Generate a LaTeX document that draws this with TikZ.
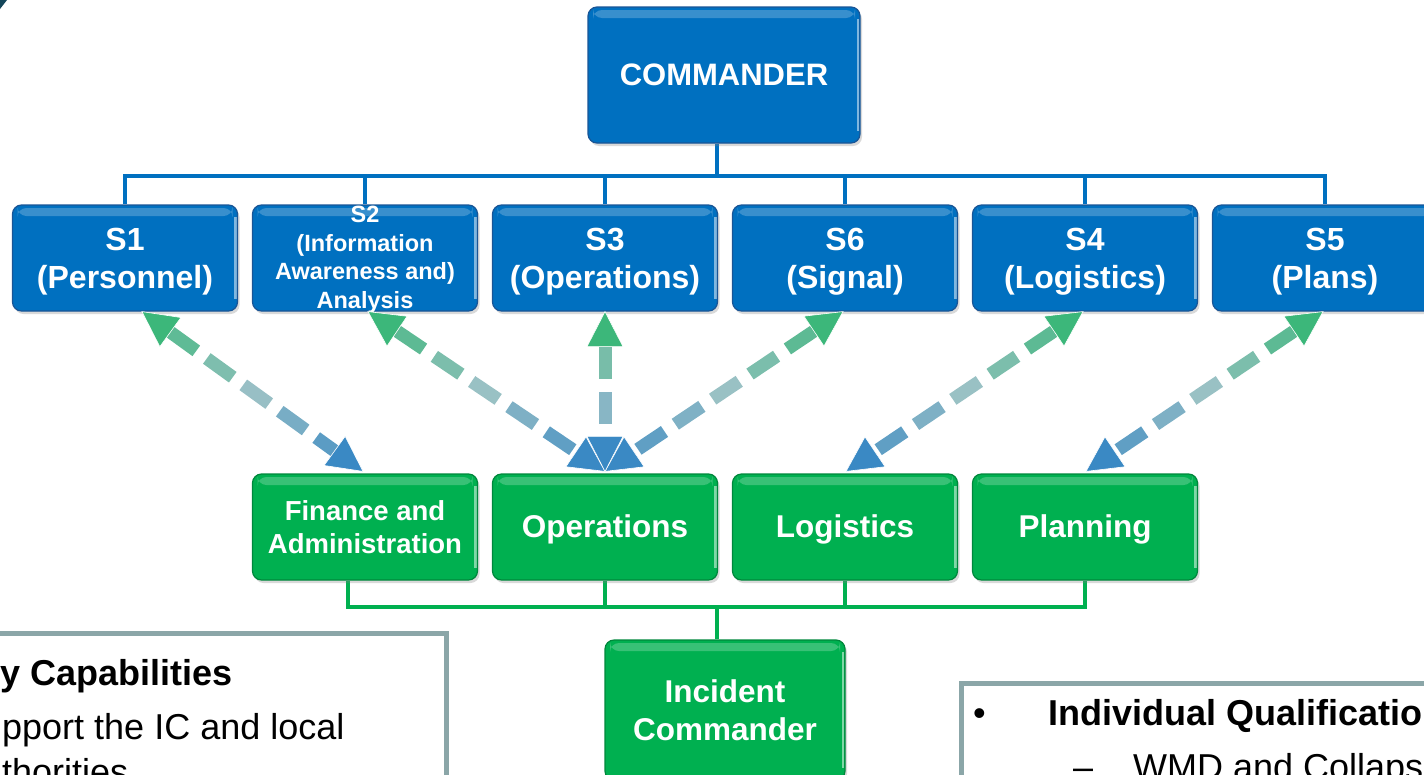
\documentclass[tikz,border=0pt]{standalone}
\usepackage{fontspec}
\setmainfont{Liberation Sans}
\usetikzlibrary{calc,shadows}
\definecolor{boxblue}{RGB}{0,112,192}
\definecolor{boxblueD}{RGB}{25,85,150}
\definecolor{boxgreen}{RGB}{0,176,80}
\definecolor{boxgreenD}{RGB}{0,135,60}
\definecolor{agreen}{RGB}{60,183,122}
\definecolor{amid}{RGB}{155,193,197}
\definecolor{ablue}{RGB}{58,137,196}
\definecolor{tborder}{RGB}{139,166,168}
\definecolor{cornerteal}{RGB}{20,70,90}
\pgfdeclarelayer{bg}
\pgfsetlayers{bg,main}

\newcommand\lbl[1]{\raisebox{-3.5pt}[\height][\depth]{\begin{tabular}{@{}c@{}}#1\end{tabular}}}
\newcommand\lblflat[1]{\raisebox{-8pt}[0pt][0pt]{\begin{tabular}{@{}c@{}}#1\end{tabular}}}

\newcommand\gradarrow[2]{%
  \path let \p1=($(#2)-(#1)$) in \pgfextra{%
    \pgfmathsetmacro\arrlen{veclen(\x1,\y1)}%
    \pgfmathsetmacro\arrang{atan2(\y1,\x1)}%
    \xdef\arrlen{\arrlen}\xdef\arrang{\arrang}};
  \begin{scope}[shift={(#1)},rotate=\arrang]
    \pgfmathsetmacro\hb{\arrlen-35}
    \foreach \k in {0,...,12}{%
      \pgfmathsetmacro\ds{35+\k*45}%
      \pgfmathsetmacro\de{min(\ds+32,\hb)}%
      \ifdim\ds pt<\de pt
        \pgfmathsetmacro\arrt{(\ds+\de)/2/\arrlen}%
        \ifdim\arrt pt<0.5pt
          \pgfmathtruncatemacro\pc{\arrt*200}%
          \colorlet{dc}{amid!\pc!agreen}%
        \else
          \pgfmathtruncatemacro\pc{(\arrt-0.5)*200}%
          \colorlet{dc}{ablue!\pc!amid}%
        \fi
        \fill[dc] (\ds pt,-6.5pt) rectangle (\de pt,6.5pt);
      \fi}
    \filldraw[fill=agreen, draw=white, line width=0.6pt] (0pt,0pt) -- (35pt,18pt) -- (35pt,-18pt) -- cycle;
    \filldraw[fill=ablue, draw=white, line width=0.6pt] (\arrlen pt,0pt) -- (\hb pt,18pt) -- (\hb pt,-18pt) -- cycle;
  \end{scope}}

\tikzset{
  bx/.style={rounded corners=9pt, inner sep=0pt, align=center, text=white,
    line width=1.2pt,
    drop shadow={opacity=0.3,shadow xshift=2pt,shadow yshift=-3pt},
    path picture={
      \fill[white,opacity=0.22] ([xshift=5pt,yshift=-3pt]path picture bounding box.north west) rectangle ([xshift=-5pt,yshift=-11pt]path picture bounding box.north east);
      \draw[white,opacity=0.5,line width=2.5pt] ([xshift=-2pt,yshift=-12pt]path picture bounding box.north east) -- ([xshift=-2pt,yshift=12pt]path picture bounding box.south east);
    }},
  bluebox/.style={bx, fill=boxblue, draw=boxblueD, minimum width=225pt, minimum height=106pt,
    font=\bfseries\fontsize{32}{38}\selectfont},
  greenbox/.style={bx, fill=boxgreen, draw=boxgreenD, minimum width=225pt, minimum height=106pt,
    font=\bfseries\fontsize{31.5}{37}\selectfont},
  bline/.style={draw=boxblue, line width=4pt},
  gline/.style={draw=boxgreen, line width=4pt},
  tbox/.style={draw=tborder, line width=5pt, fill=white, inner sep=0pt, anchor=north west},
  btext/.style={anchor=base west, inner sep=0pt, font=\bfseries\fontsize{36}{42}\selectfont},
  ntext/.style={anchor=base west, inner sep=0pt, font=\fontsize{36}{42}\selectfont},
}

\begin{document}
\begin{tikzpicture}[x=1pt,y=-1pt]
\useasboundingbox (0,0) rectangle (1424,774);
\clip (0,0) rectangle (1424,774);
\fill[cornerteal] (0,0) -- (7,0) -- (0,9) -- cycle;

% top
\node[bluebox, minimum width=272pt, minimum height=136pt, font=\bfseries\fontsize{31}{37}\selectfont] (cmd) at (724,75) {\lbl{COMMANDER}};
\node[bluebox] (s1) at (125,258) {\lbl{S1\\(Personnel)}};
\node[bluebox, font=\bfseries\fontsize{23.5}{28.5}\selectfont] (s2) at (365,258) {\lblflat{S2\\(Information\\Awareness and)\\Analysis}};
\node[bluebox] (s3) at (605,258) {\lbl{S3\\(Operations)}};
\node[bluebox] (s6) at (845,258) {\lbl{S6\\(Signal)}};
\node[bluebox] (s4) at (1085,258) {\lbl{S4\\(Logistics)}};
\node[bluebox] (s5) at (1325,258) {\lbl{S5\\(Plans)}};

% green
\node[greenbox, font=\bfseries\fontsize{27.5}{33}\selectfont] (fin) at (365,527) {\lbl{Finance and\\Administration}};
\node[greenbox] (ops) at (605,527) {\lbl{Operations}};
\node[greenbox] (log) at (845,527) {\lbl{Logistics}};
\node[greenbox] (pln) at (1085,527) {\lbl{Planning}};
\node[greenbox, minimum width=240pt, minimum height=140pt, font=\bfseries\fontsize{31.5}{38}\selectfont] (ic) at (725,710) {Incident\\Commander};

% connectors
\coordinate (tb) at (717,176);
\coordinate (gb) at (717,607);
\begin{pgfonlayer}{bg}
  \draw[bline] (cmd.south -| tb) -- (tb);
  \foreach \s in {s1,s2,s3,s6,s4,s5}{\draw[bline] (tb) -| (\s.north);}
  \draw[gline] (ic.north -| gb) -- (gb);
  \draw[gline] (gb) -| ([xshift=-17pt]fin.south);
  \foreach \s in {ops,log,pln}{\draw[gline] (gb) -| (\s.south);}
\end{pgfonlayer}

% arrows
\coordinate (a1t) at ($(s1.south)+(17,0)$);
\coordinate (a1b) at ($(fin.north)+(-2,-2)$);
\coordinate (a2t) at ($(s2.south)+(3,0)$);
\coordinate (a3t) at (s3.south);
\coordinate (a6t) at ($(s6.south)+(-2,0)$);
\coordinate (aob) at ($(ops.north)+(0,-2)$);
\coordinate (a4t) at ($(s4.south)+(-2,0)$);
\coordinate (a4b) at ($(log.north)+(1,-2)$);
\coordinate (a5t) at ($(s5.south)+(-2,0)$);
\coordinate (a5b) at ($(pln.north)+(1,-2)$);
\gradarrow{a1t}{a1b}
\gradarrow{a2t}{aob}
\gradarrow{a6t}{aob}
\gradarrow{a4t}{a4b}
\gradarrow{a5t}{a5b}
\gradarrow{a3t}{aob}

% text boxes
\node[tbox, minimum width=454pt, minimum height=170pt] (lbox) at (-10,631) {};
\node[btext] (lt1) at (0,685) {y Capabilities};
\node[ntext] (lt2) at (2,739) {pport the IC and local};
\node[ntext] (lt3) at (2,784) {thorities};

\node[tbox, minimum width=480pt, minimum height=120pt] (rbox) at (959,681) {};
\node[ntext] (rb) at (973,725) {\textbullet};
\node[btext] (rt1) at (1048,725) {Individual Qualificatio};
\node[ntext] (rd) at (1073,779) {--};
\node[ntext] (rt2) at (1133,779) {WMD and Collaps};
\end{tikzpicture}
\end{document}
